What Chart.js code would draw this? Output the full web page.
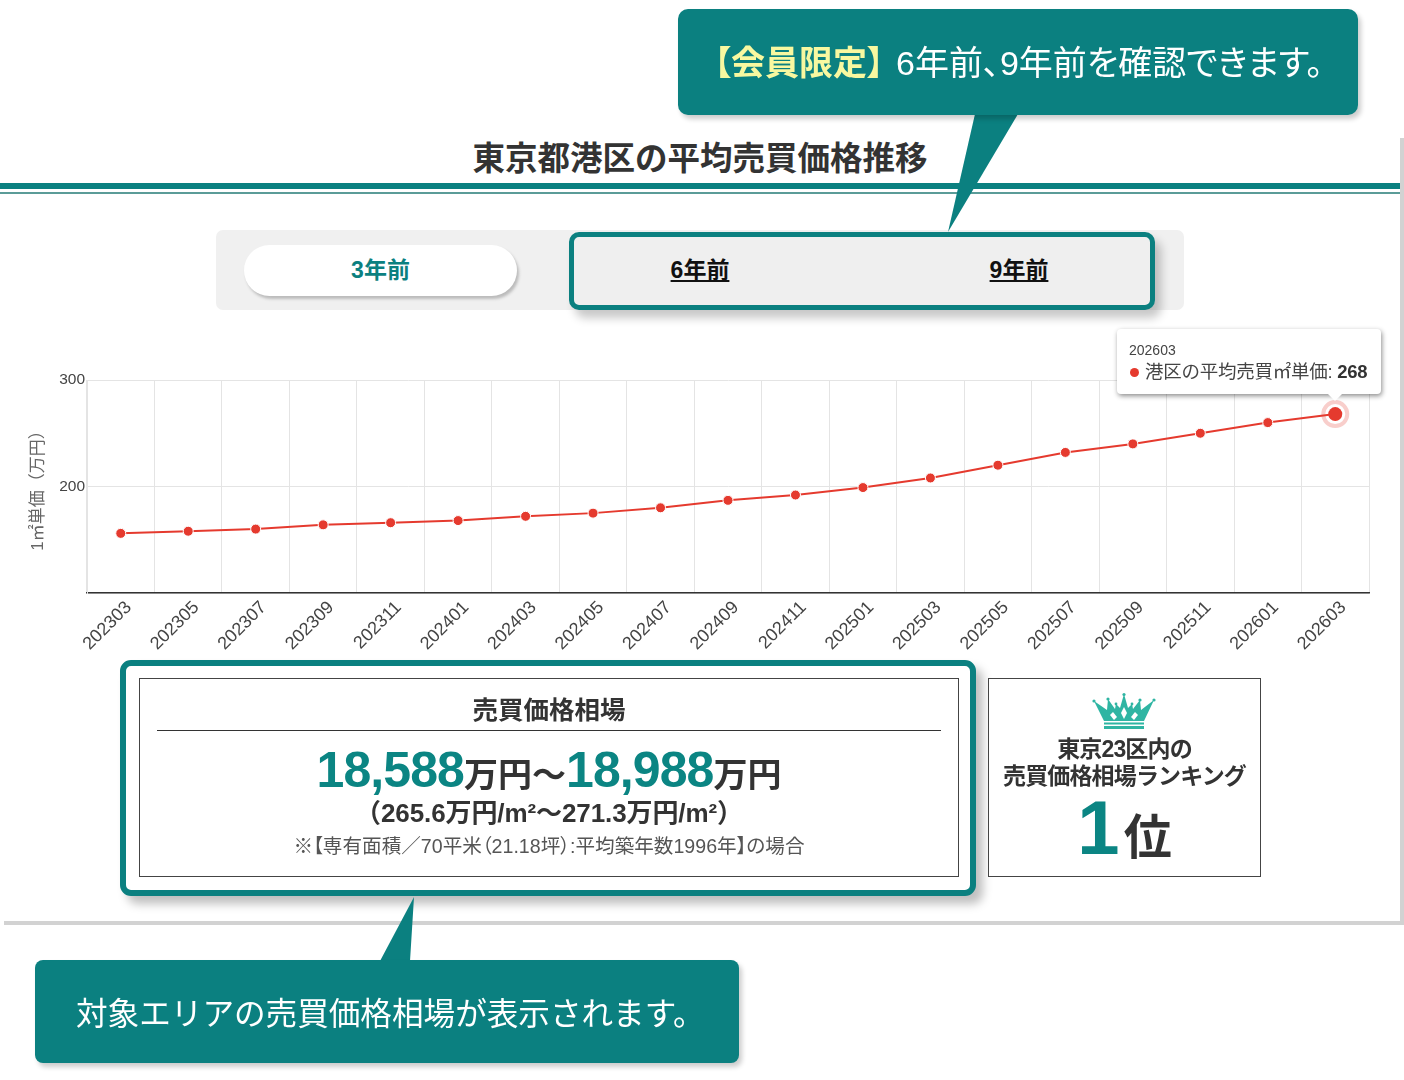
<!DOCTYPE html>
<html lang="ja">
<head>
<meta charset="utf-8">
<title>東京都港区の平均売買価格推移</title>
<script src="https://cdn.jsdelivr.net/npm/chart.js@4"></script>
<style>
    * { box-sizing: border-box; }
    html, body { margin: 0; padding: 0; background: #fff; }
    body {
        position: relative;
        width: 1404px;
        height: 1080px;
        overflow: hidden;
        color: #333;
        font-family: "Liberation Sans", "Noto Sans CJK JP", sans-serif;
    }
    .abs { position: absolute; }
    .center { text-align: center; white-space: nowrap; }
    .palt { font-feature-settings: "palt"; }
    #frameRight { left: 1400px; top: 138px; width: 4px; height: 786px; background: #d2d2d2; }
    #frameBottom { left: 4px; top: 921px; width: 1400px; height: 4px; background: #d2d2d2; }
    #title { left: 0; width: 1400px; top: 137px; font-size: 32.5px; line-height: 44px; font-weight: 700; }
    #ruleThick { left: 0; top: 183px; width: 1400px; height: 6px; background: #0b8080; }
    #ruleThin { left: 0; top: 192px; width: 1400px; height: 2px; background: #5b9c98; }
    #tabs { left: 216px; top: 230px; width: 968px; height: 80px; background: #f0f0f0; border-radius: 7px; }
    #pill {
        left: 244px; top: 245px; width: 273px; height: 51px; background: #fff; border-radius: 26px;
        box-shadow: 2px 3px 3px #bbb; color: #0b8080; font-size: 23px; line-height: 51px; font-weight: 700;
    }
    #lockBox {
        left: 569px; top: 232px; width: 586px; height: 78px; border: 5px solid #0b8080; border-radius: 10px;
        background: #efefef; box-shadow: 6px 8px 10px rgba(0,0,0,.22);
    }
    .lockTab { top: 253px; width: 120px; font-size: 23px; line-height: 34px; font-weight: 700; color: #111; text-decoration: underline; }
    #chartWrap { left: 0; top: 320px; width: 1382px; height: 340px; }
    #tooltip {
        left: 1117px; top: 329px; width: 264px; height: 65px; background: #fff; border-radius: 4px;
        box-shadow: 1px 2px 5px rgba(0,0,0,.45); padding: 12px; white-space: nowrap;
    }
    #tooltip .ttTitle { font-size: 14px; line-height: 19px; color: #444; }
    #tooltip .ttBody { font-size: 18.5px; line-height: 24px; color: #444; letter-spacing: -.25px; }
    #tooltip .dot { display: inline-block; width: 9px; height: 9px; border-radius: 50%; background: #e53a2e; margin: 0 6px 1px 1px; }
    #tooltip b { color: #333; }
    #caret {
        left: 1328px; top: 394px; width: 0; height: 0;
        border-left: 7px solid transparent; border-right: 7px solid transparent; border-top: 7px solid #fff;
    }
    #priceOuter {
        left: 120px; top: 660px; width: 856px; height: 236px; background: #fff; border: 6px solid #0b8080;
        border-radius: 11px; box-shadow: 7px 8px 10px rgba(0,0,0,.25);
    }
    #priceInner { left: 139px; top: 678px; width: 820px; height: 199px; border: 1px solid #444; }
    #priceHead { left: 139px; width: 820px; top: 692px; font-size: 25.5px; line-height: 36px; font-weight: 700; }
    #priceLine { left: 157px; top: 730px; width: 784px; height: 1px; background: #333; }
    #priceMain { left: 139px; width: 820px; top: 738px; line-height: 64px; font-size: 34px; font-weight: 700; }
    #priceMain em { font-style: normal; font-size: 50px; color: #0b8583; letter-spacing: -.9px; }
    #priceSub { left: 139px; width: 820px; top: 795px; font-size: 26px; line-height: 36px; font-weight: 700; letter-spacing: -.1px; }
    #priceNote { left: 139px; width: 820px; top: 832px; font-size: 19.6px; line-height: 28px; color: #555; }
    #rankBox { left: 988px; top: 678px; width: 273px; height: 199px; border: 1px solid #444; background: #fff; }
    #rankText { left: 988px; width: 273px; top: 736px; font-size: 23px; line-height: 27px; font-weight: 700; letter-spacing: -.85px; }
    #rankNo { left: 988px; width: 273px; top: 778px; font-weight: 700; line-height: 100px; font-size: 48px; }
    #rankNo em { font-style: normal; font-size: 76px; color: #0b8583; margin-right: 4px; }
    .callout { background: #0b8080; color: #fff; box-shadow: 3px 4px 5px rgba(0,0,0,.2); white-space: nowrap; }
    #calloutTop { left: 678px; top: 9px; width: 680px; height: 106px; border-radius: 10px; font-size: 34px; line-height: 108px; padding-left: 36px; }
    #calloutTop span { color: #f8f8a0; font-weight: 700; margin-right: 12px; }
    #calloutBottom { left: 35px; top: 960px; width: 704px; height: 103px; border-radius: 8px; font-size: 31.6px; line-height: 108px; padding-left: 41px; }
    svg.abs { overflow: visible; }
</style>
</head>
<body>
<div class="abs" id="frameRight"></div>
<div class="abs" id="frameBottom"></div>
<div class="abs center" id="title">東京都港区の平均売買価格推移</div>
<div class="abs" id="ruleThick"></div>
<div class="abs" id="ruleThin"></div>

<div class="abs" id="tabs"></div>
<div class="abs center" id="pill">3年前</div>
<div class="abs" id="lockBox"></div>
<div class="abs center lockTab" style="left:640px">6年前</div>
<div class="abs center lockTab" style="left:959px">9年前</div>

<div class="abs" id="chartWrap"><canvas id="priceChart" width="1382" height="340"></canvas></div>
<div class="abs" id="tooltip"></div>
<div class="abs" id="caret"></div>

<div class="abs" id="priceOuter"></div>
<div class="abs" id="priceInner"></div>
<div class="abs center" id="priceHead">売買価格相場</div>
<div class="abs" id="priceLine"></div>
<div class="abs center palt" id="priceMain"><em>18,588</em>万円～<em>18,988</em>万円</div>
<div class="abs center" id="priceSub">（265.6万円/m²～271.3万円/m²）</div>
<div class="abs center palt" id="priceNote">※【専有面積／70平米（21.18坪）:平均築年数1996年】の場合</div>

<div class="abs" id="rankBox"></div>
<svg class="abs" style="left:1092px;top:693px" width="66" height="37" viewBox="0 0 66 37">
    <g fill="#2fb5a3">
        <path d="M2 8 L15 17 L16 6 L23 16 L24 11 L28 15 L32 1 L36 15 L40 11 L41 16 L48 7 L49 17 L62 7 L52 28 L12 28 Z"/>
        <rect x="12" y="29.5" width="40" height="2"/>
        <rect x="12" y="33" width="40" height="3"/>
        <circle cx="2" cy="8" r="1.6"/><circle cx="16" cy="6" r="1.6"/><circle cx="24" cy="11" r="1.4"/>
        <circle cx="32" cy="1.5" r="1.6"/><circle cx="40" cy="11" r="1.4"/><circle cx="48" cy="7" r="1.6"/><circle cx="62" cy="7" r="1.6"/>
    </g>
    <g fill="#fff">
        <path d="M32 14 L35 20 L32 26 L29 20 Z"/><path d="M21 19 L25 24 L22 27 L18 22 Z"/><path d="M43 19 L46 22 L42 27 L39 24 Z"/>
    </g>
</svg>
<div class="abs center" id="rankText">東京23区内の<br>売買価格相場ランキング</div>
<div class="abs center" id="rankNo"><em>1</em>位</div>

<svg class="abs" style="left:0;top:0" width="1404" height="1080">
    <polygon points="975,114 1018,114 948,232" fill="#0b8080"/>
    <polygon points="380,961 410,961 414,897" fill="#0b8080"/>
</svg>
<div class="abs callout palt" id="calloutTop"><span>【会員限定】</span>6年前、9年前を確認できます。</div>
<div class="abs callout" id="calloutBottom">対象エリアの売買価格相場が表示されます。</div>

<script>
const months = ["202303", "202305", "202307", "202309", "202311", "202401", "202403", "202405", "202407", "202409",
    "202411", "202501", "202503", "202505", "202507", "202509", "202511", "202601", "202603"];
const prices = [156, 158, 160, 164, 166, 168, 172, 175, 180, 187, 192, 199, 208, 220, 232, 240, 250, 260, 268];
const seriesName = "港区の平均売買㎡単価";
const yTickLabels = [200, 300];
const fontStack = '"Liberation Sans", "Noto Sans CJK JP", sans-serif';

// pale ring around the selected point
const haloPlugin = {
    id: 'halo',
    afterDatasetsDraw(chart) {
        const pt = chart.getDatasetMeta(0).data[months.length - 1];
        const ctx = chart.ctx;
        ctx.save();
        ctx.beginPath();
        ctx.arc(pt.x, pt.y, 12, 0, Math.PI * 2);
        ctx.strokeStyle = 'rgba(229,58,46,.25)';
        ctx.lineWidth = 4;
        ctx.stroke();
        ctx.restore();
    }
};

function drawTooltip(context) {
    const t = context.tooltip;
    if (!t.dataPoints || !t.dataPoints.length) return;
    const pt = t.dataPoints[0];
    document.getElementById('tooltip').innerHTML =
        '<div class="ttTitle">' + pt.label + '</div>' +
        '<div class="ttBody"><span class="dot"></span>' + pt.dataset.label + ': <b>' + pt.formattedValue + '</b></div>';
}

const priceChart = new Chart(document.getElementById('priceChart'), {
    type: 'line',
    data: {
        labels: months,
        datasets: [{
            label: seriesName,
            data: prices,
            borderColor: '#e53a2e',
            borderWidth: 2,
            backgroundColor: '#e53a2e',
            tension: 0,
            pointRadius: 5,
            pointBorderColor: '#fff',
            pointBorderWidth: 1,
            pointBackgroundColor: '#e53a2e',
            pointHoverRadius: 7,
            pointHoverBorderWidth: 0,
            pointHoverBackgroundColor: '#e53a2e'
        }]
    },
    plugins: [haloPlugin],
    options: {
        responsive: false,
        animation: false,
        layout: { padding: { left: 0, right: 13, top: 60, bottom: 0 } },
        plugins: {
            legend: { display: false },
            tooltip: { enabled: false, external: drawTooltip }
        },
        scales: {
            x: {
                offset: true,
                afterFit: function (scale) { scale.height = 67; },
                grid: { offset: true, color: '#e4e4e4', drawTicks: false },
                border: { color: '#333', width: 1.5 },
                ticks: {
                    autoSkip: false,
                    minRotation: 45,
                    maxRotation: 45,
                    padding: 4,
                    labelOffset: 8,
                    color: '#444',
                    font: { family: fontStack, size: 18 }
                }
            },
            y: {
                min: 100,
                max: 300,
                afterFit: function (scale) { scale.width = 87; },
                grid: { color: '#e4e4e4', drawTicks: false },
                border: { color: '#e4e4e4' },
                title: {
                    display: true,
                    text: '1㎡単価（万円）',
                    color: '#666',
                    padding: { top: 28, bottom: 0 },
                    font: { family: fontStack, size: 17 }
                },
                ticks: {
                    stepSize: 100,
                    padding: 2,
                    color: '#444',
                    font: { family: fontStack, size: 15.5 },
                    callback: function (v) { return yTickLabels.includes(v) ? v : ''; }
                }
            }
        }
    }
});

const lastPoint = [{ datasetIndex: 0, index: months.length - 1 }];
priceChart.setActiveElements(lastPoint);
priceChart.tooltip.setActiveElements(lastPoint, { x: 0, y: 0 });
priceChart.update();
</script>
</body>
</html>
